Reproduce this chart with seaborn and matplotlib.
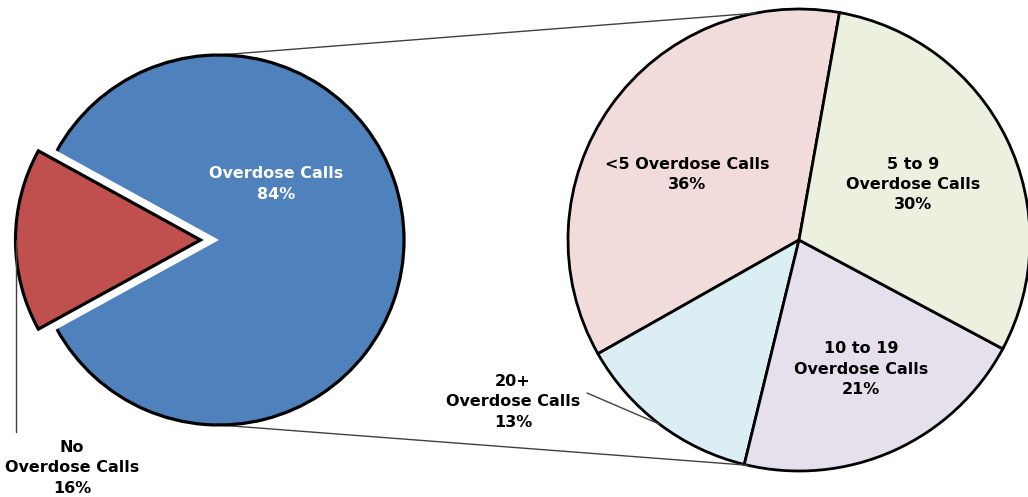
import numpy as np
import seaborn as sns
import matplotlib.pyplot as plt
from matplotlib.patches import Arc

# data
main_labels = ["Overdose Calls", "No\nOverdose Calls"]
main_values = [84, 16]
main_colors = ["#4F81BD", "#C0504D"]

sub_labels = ["<5 Overdose Calls", "20+\nOverdose Calls", "10 to 19\nOverdose Calls", "5 to 9\nOverdose Calls"]
sub_values = [36, 13, 21, 30]
sub_colors = ["#F2DCDB", "#DBEEF3", "#E5E0EC", "#EBF1DE"]

sns.set_theme(style="white")
plt.rcParams['font.family'] = ['DejaVu Sans']

fig = plt.figure(figsize=(10.28, 4.97), dpi=100)
ax = fig.add_axes([0, 0, 1, 1])

# left pie (pixel-like coordinates)
c1, r1 = (219, 257), 185
small = main_values[1] / sum(main_values) * 360
w1, _ = ax.pie(main_values, colors=main_colors, center=c1, radius=r1,
               startangle=180 + small / 2, explode=[0, 0.1 * r1],
               wedgeprops=dict(edgecolor="none"))
w1[1].set_edgecolor("black")
w1[1].set_linewidth(2.3)
ax.add_patch(Arc(c1, 2 * r1, 2 * r1, theta1=w1[0].theta1, theta2=w1[0].theta2,
                 color="black", lw=2.3, zorder=3))

# right pie
c2, r2 = (799, 257), 231
w2, _ = ax.pie(sub_values, colors=sub_colors, center=c2, radius=r2,
               startangle=79.9, counterclock=True,
               wedgeprops=dict(edgecolor="black", linewidth=2))

ax.set_xlim(0, 1028)
ax.set_ylim(0, 497)
ax.set_aspect("equal")
ax.axis("off")

def pt(c, r, ang):
    a = np.deg2rad(ang)
    return c[0] + r * np.cos(a), c[1] + r * np.sin(a)

# connector lines
for a1, a2 in [(90, 100.9), (270, 257.2)]:
    p, q = pt(c1, r1, a1), pt(c2, r2, a2)
    ax.plot([p[0], q[0]], [p[1], q[1]], color="#404040", lw=1, zorder=1)

fs = 11.5
ls = 1.45
ax.text(276, 497 - 184, f"{main_labels[0]}\n{main_values[0]}%", color="white",
        ha="center", va="center", fontsize=fs, fontweight="bold", linespacing=ls)

# no overdose calls, with leader
rc = w1[1].center
ax.plot([rc[0] - r1, rc[0] - r1], [rc[1], 497 - 432], color="#404040", lw=1)
ax.text(72, 497 - 468, f"{main_labels[1]}\n{main_values[1]}%", ha="center", va="center",
        fontsize=fs, fontweight="bold", color="black", linespacing=ls)

# label placement: (angle shift, distance fraction)
place = [(5, 0.56), None, (1.5, 0.62), (0, 0.55)]
for w, lab, v, pl in zip(w2, sub_labels, sub_values, place):
    m = (w.theta1 + w.theta2) / 2
    if pl is None:
        q = pt(c2, r2, m)
        ax.plot([587, q[0]], [497 - 393, q[1]], color="#404040", lw=1)
        ax.text(513, 497 - 402, f"{lab}\n{v}%", ha="center", va="center",
                fontsize=fs, fontweight="bold", color="black", linespacing=ls)
    else:
        x, y = pt(c2, r2 * pl[1], m + pl[0])
        ax.text(x, y, f"{lab}\n{v}%", ha="center", va="center",
                fontsize=fs, fontweight="bold", color="black", linespacing=ls)

plt.savefig("out.png", dpi=100)
